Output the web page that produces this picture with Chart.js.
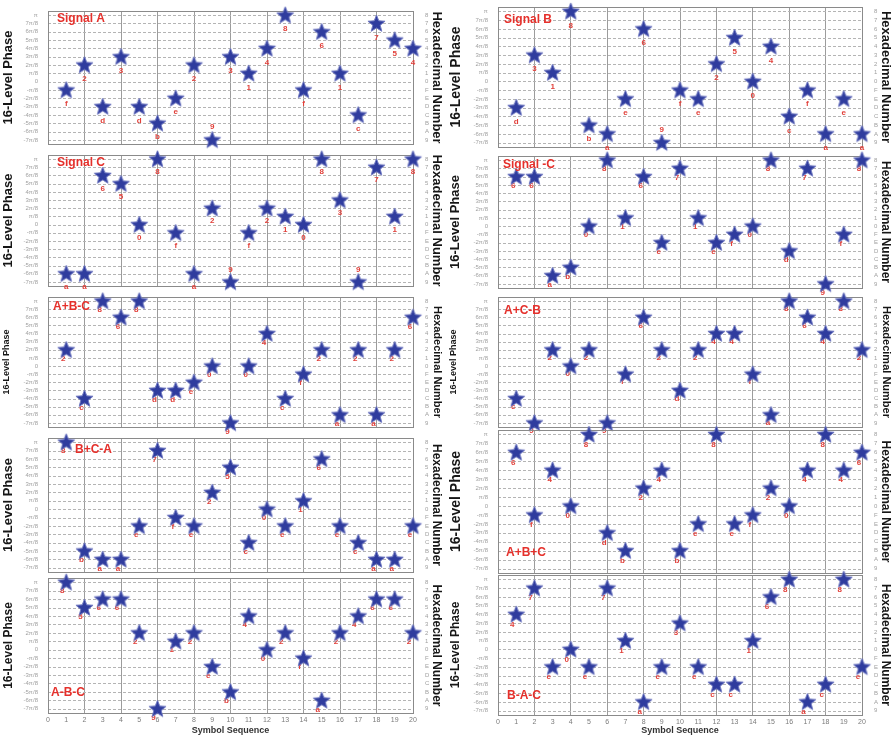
<!DOCTYPE html>
<html><head><meta charset="utf-8">
<script src="https://cdn.jsdelivr.net/npm/chart.js@4.4.1/dist/chart.umd.min.js"></script>
<style>
body{margin:0;background:#fff;width:894px;height:738px;overflow:hidden;position:relative;}
.cell{position:absolute;}
</style></head><body>
<script>
// ---- data ----
const symbolSequence = [1,2,3,4,5,6,7,8,9,10,11,12,13,14,15,16,17,18,19,20];
const signalA       = [6,9,4,10,4,2,5,9,0,10,8,11,15,6,13,8,3,14,12,11];
const signalB       = [4,10,8,15,2,1,5,13,0,6,5,9,12,7,11,3,6,1,5,1];
const signalC       = [1,1,13,12,7,15,6,1,9,0,6,9,8,7,15,10,0,14,8,15];
const signalNegC    = [13,13,1,2,7,15,8,13,5,14,8,5,6,7,15,4,14,0,6,15];
const aPlusBMinusC  = [9,3,15,13,15,4,4,5,7,0,7,11,3,6,9,1,9,1,9,13];
const aPlusCMinusB  = [3,0,9,7,9,0,6,13,9,4,9,11,11,6,1,15,13,11,15,9];
const bPlusCMinusA  = [15,2,1,1,5,14,6,5,9,12,3,7,5,8,13,5,3,1,1,5];
const aPlusBPlusC   = [13,6,11,7,15,4,2,9,11,2,5,15,5,6,9,7,11,15,11,13];
const aMinusBMinusC = [15,12,13,13,9,0,8,9,5,2,11,7,9,6,1,9,11,13,13,9];
const bMinusAMinusC = [11,14,5,7,5,14,8,1,5,10,5,3,3,8,13,15,1,3,15,5];

const phaseTicks = ['-7π/8','-6π/8','-5π/8','-4π/8','-3π/8','-2π/8','-π/8','0','π/8','2π/8','3π/8','4π/8','5π/8','6π/8','7π/8','π'];
const hexTicks   = ['9','A','B','C','D','E','F','0','1','2','3','4','5','6','7','8'];
const xTicks     = [0,1,2,3,4,5,6,7,8,9,10,11,12,13,14,15,16,17,18,19,20];

// ---- layout / style ----
const FONT = "'Liberation Sans', Arial, sans-serif";
Chart.defaults.font.family = FONT;

const panels = [
  {name:'Signal A', data:signalA, col:0, row:0, top:11,  bottom:144, lt:13, rt:13, tx:9,  ty:8,  tFromBottom:false, ldx:0,  ldy:14, zeroAbove:true},
  {name:'Signal C', data:signalC, col:0, row:1, top:155, bottom:286, lt:13, rt:13, tx:9,  ty:8,  tFromBottom:false, ldx:0,  ldy:13, zeroAbove:true},
  {name:'A+B-C',    data:aPlusBMinusC, col:0, row:2, top:297, bottom:427, lt:9,  rt:11, tx:5,  ty:10, tFromBottom:false, ldx:-3, ldy:9},
  {name:'B+C-A',    data:bPlusCMinusA, col:0, row:3, top:438, bottom:572, lt:13, rt:12, tx:27, ty:12, tFromBottom:false, ldx:-3, ldy:9},
  {name:'A-B-C',    data:aMinusBMinusC, col:0, row:4, top:578, bottom:713, lt:12, rt:12, tx:3, ty:20, tFromBottom:true, ldx:-4, ldy:9},
  {name:'Signal B', data:signalB, col:1, row:0, top:7,   bottom:147, lt:14, rt:13, tx:6,  ty:13, tFromBottom:false, ldx:0,  ldy:14, zeroAbove:true},
  {name:'Signal -C',data:signalNegC, col:1, row:1, top:156, bottom:288, lt:13, rt:12, tx:5, ty:9, tFromBottom:false, ldx:-3, ldy:9},
  {name:'A+C-B',    data:aPlusCMinusB, col:1, row:2, top:297, bottom:427, lt:9,  rt:11, tx:6,  ty:14, tFromBottom:false, ldx:-3, ldy:8},
  {name:'A+B+C',    data:aPlusBPlusC, col:1, row:3, top:430, bottom:573, lt:14, rt:12, tx:8,  ty:20, tFromBottom:true, ldx:-3, ldy:10},
  {name:'B-A-C',    data:bMinusAMinusC, col:1, row:4, top:575, bottom:715, lt:12, rt:12, tx:9, ty:19, tFromBottom:true, ldx:-4, ldy:10}
];

// filled five-point star marker
function makeStar(){
  const c = document.createElement('canvas');
  c.width = 19; c.height = 19;
  const g = c.getContext('2d');
  const cx = 9.5, cy = 10, R = 9, r = 3.9;
  g.beginPath();
  for (let i = 0; i < 10; i++){
    const a = -Math.PI/2 + i*Math.PI/5;
    const rad = i % 2 ? r : R;
    const x = cx + rad*Math.cos(a), y = cy + rad*Math.sin(a);
    i ? g.lineTo(x,y) : g.moveTo(x,y);
  }
  g.closePath();
  g.fillStyle = '#2f3c9e';
  g.fill();
  g.lineWidth = 1;
  g.strokeStyle = '#6f78c0';
  g.stroke();
  return c;
}
const starImg = makeStar();

const decorPlugin = {
  id:'decor',
  beforeDatasetsDraw(chart){
    const p = chart.options.plugins.decor;
    const {ctx, chartArea:a, scales} = chart;
    const ys = scales.y, xs = scales.x;
    ctx.save();
    // horizontal dashed levels
    ctx.strokeStyle = '#b4b4b4';
    ctx.lineWidth = 1;
    ctx.setLineDash([3,2]);
    for (let v = 0; v < 16; v++){
      const y = Math.round(ys.getPixelForValue(v)) + 0.5;
      ctx.beginPath(); ctx.moveTo(a.left, y); ctx.lineTo(a.right, y); ctx.stroke();
    }
    ctx.setLineDash([]);
    // frame
    ctx.strokeStyle = '#8a8a8a';
    ctx.strokeRect(Math.round(a.left)+0.5, Math.round(a.top)+0.5, Math.round(a.right-a.left), Math.round(a.bottom-a.top));
    // red hex labels
    ctx.fillStyle = '#e2413b';
    ctx.font = 'bold 8px ' + FONT;
    ctx.textAlign = 'center';
    ctx.textBaseline = 'middle';
    p.data.forEach((v, i) => {
      const x = xs.getPixelForValue(symbolSequence[i]);
      const y = ys.getPixelForValue(v);
      const lbl = hexTicks[v].toLowerCase();
      let dy = p.ldy, dx = p.ldx;
      if (v === 0 && p.zeroAbove) dy = -p.ldy + 1;
      ctx.fillText(lbl, x + dx, y + dy);
    });
    ctx.restore();
  },
  afterDatasetsDraw(chart){
    const p = chart.options.plugins.decor;
    const {ctx, chartArea:a} = chart;
    ctx.save();
    ctx.fillStyle = '#e5302b';
    ctx.font = 'bold 12px ' + FONT;
    ctx.textAlign = 'left';
    ctx.textBaseline = 'middle';
    const y = p.tFromBottom ? a.bottom - p.ty : a.top + p.ty;
    ctx.fillText(p.name, a.left + p.tx, y);
    ctx.restore();
  }
};

panels.forEach(p => {
  const bottomRow = p.row === 4;
  const colLeft = p.col === 0 ? 0 : 447;
  const colW = p.col === 0 ? 445 : 447;
  const plotL = p.col === 0 ? 48 : 498;
  const plotR = p.col === 0 ? 413 : 862;
  const padT = 12;
  const plotH = p.bottom - p.top;
  const xH = bottomRow ? Math.min(24, 738 - p.bottom - 1) : 0;
  const canvasTop = p.top - padT;
  const canvasH = bottomRow ? 738 - canvasTop : plotH + padT + 12;
  const padB = canvasH - padT - plotH - xH;

  const div = document.createElement('div');
  div.className = 'cell';
  div.style.left = colLeft + 'px';
  div.style.top = canvasTop + 'px';
  div.style.width = colW + 'px';
  div.style.height = canvasH + 'px';
  const cv = document.createElement('canvas');
  cv.width = colW; cv.height = canvasH;
  cv.style.width = colW + 'px'; cv.style.height = canvasH + 'px';
  div.appendChild(cv);
  document.body.appendChild(div);

  new Chart(cv, {
    type:'scatter',
    data:{
      datasets:[{
        data: p.data.map((v,i) => ({x: symbolSequence[i], y: v})),
        pointStyle: starImg,
        pointRadius: 9,
        clip: false
      }]
    },
    options:{
      responsive:false,
      animation:false,
      devicePixelRatio:1,
      layout:{padding:{top:padT, bottom:padB, left:0, right:0}},
      plugins:{legend:{display:false}, tooltip:{enabled:false}, decor:p},
      scales:{
        x:{
          type:'linear', min:0, max:20,
          afterBuildTicks(s){ s.ticks = xTicks.map(v => ({value:v})); },
          afterFit(s){ s.height = xH; },
          grid:{
            drawTicks:false,
            color: c => (c.tick && c.tick.value % 2 === 0) ? '#9c9c9c' : 'rgba(0,0,0,0)',
            lineWidth:1
          },
          border:{display:false},
          ticks:{display:bottomRow, color:'#7a7a7a', font:{size:7}, padding:3, autoSkip:false, maxRotation:0},
          title:{display:bottomRow, text:'Symbol Sequence', color:'#333', font:{size:9, weight:'bold'}, padding:{top:1,bottom:1}}
        },
        y:{
          type:'linear', position:'left', min:-0.5, max:15.5,
          afterBuildTicks(s){ s.ticks = hexTicks.map((h, v) => ({value:v})); },
          afterFit(s){ s.width = plotL - colLeft; },
          grid:{display:false},
          border:{display:false},
          ticks:{color:'#a0a0a0', font:{size:6}, padding:2, autoSkip:false, callback: v => phaseTicks[v]},
          title:{display:true, text:'16-Level Phase', color:'#161616', font:{size:p.lt, weight:'bold'}, padding:{top:1,bottom:1}}
        },
        y2:{
          type:'linear', position:'right', min:-0.5, max:15.5,
          afterBuildTicks(s){ s.ticks = hexTicks.map((h, v) => ({value:v})); },
          afterFit(s){ s.width = colLeft + colW - plotR; },
          grid:{display:false},
          border:{display:false},
          ticks:{color:'#a0a0a0', font:{size:6}, padding:4, autoSkip:false, callback: v => hexTicks[v]},
          title:{display:true, text:'Hexadecimal Number', color:'#161616', font:{size:p.rt, weight:'bold'}, padding:{top:1,bottom:1}}
        }
      }
    },
    plugins:[decorPlugin]
  });
});
</script>
</body></html>
